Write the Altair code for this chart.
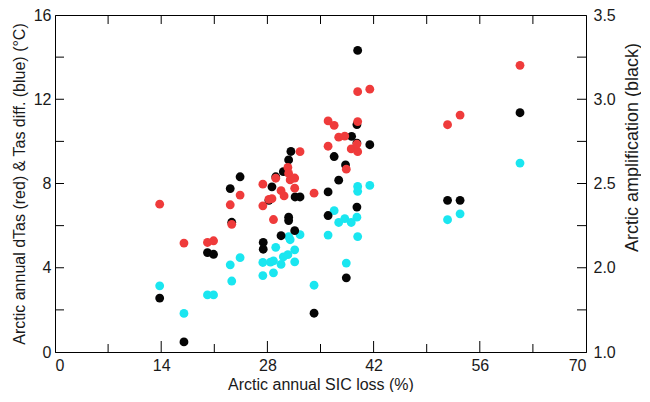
import altair as alt
import pandas as pd

# x positions (Arctic annual SIC loss, %) for each model
sic_loss = [13.8, 17.0, 20.1, 20.9, 23.1, 23.3, 24.4, 27.4, 27.4, 28.2, 28.6, 28.8,
            29.1, 29.8, 30.2, 30.7, 30.8, 31.0, 31.6, 31.6, 32.3, 34.15, 36.0, 36.8,
            36.0, 37.4, 38.2, 38.4, 39.05, 39.9, 39.8, 39.9, 39.9, 41.5, 51.75, 53.4, 61.3]
dtas = [7.02, 5.17, 5.20, 5.28, 6.99, 6.06, 7.45, 7.97, 6.94, 7.25, 7.28, 6.29,
        8.25, 7.66, 7.41, 8.76, 8.48, 8.17, 8.26, 7.78, 9.51, 7.54, 10.97, 10.76,
        9.77, 10.20, 10.25, 8.68, 9.64, 9.51, 9.87, 10.94, 12.36, 12.48, 10.79, 11.25, 13.61]

cyan_x = [13.8, 17.0, 20.1, 20.9, 23.1, 24.4, 23.3, 27.4, 27.4, 28.4, 28.8, 28.8,
          29.1, 29.8, 30.1, 30.7, 31.0, 30.8, 31.6, 31.6, 32.3, 34.15, 36.0, 36.8,
          37.4, 38.2, 38.4, 39.05, 39.8, 39.9, 39.9, 41.5, 39.9, 51.75, 53.4, 61.3]
tas_diff = [3.14, 1.83, 2.71, 2.71, 4.14, 4.48, 3.37, 4.25, 3.63, 4.27, 4.33, 3.76,
            4.97, 4.16, 4.52, 4.62, 5.33, 5.48, 4.85, 4.28, 5.57, 3.17, 5.55, 6.71,
            6.15, 6.33, 4.22, 6.15, 6.40, 7.86, 7.63, 7.91, 5.48, 6.28, 6.56, 8.97]

black_x = [13.8, 17.0, 20.1, 20.9, 23.1, 24.4, 23.3, 27.45, 27.45, 28.2, 28.6, 29.1,
           30.1, 30.8, 31.1, 29.8, 30.8, 30.8, 31.6, 31.65, 32.3, 34.15, 36.0, 36.0,
           36.8, 37.4, 38.3, 38.4, 39.9, 39.8, 39.1, 39.8, 41.5, 39.8, 51.75, 53.4, 61.3]
amplification = [1.82, 1.56, 2.09, 2.08, 2.47, 2.54, 2.27, 2.15, 2.11, 2.40, 2.48, 2.54,
                 2.57, 2.64, 2.69, 2.19, 2.30, 2.28, 2.22, 2.42, 2.42, 1.73, 2.45, 2.31,
                 2.66, 2.52, 2.61, 1.94, 3.29, 2.85, 2.78, 2.74, 2.73, 2.36, 2.40, 2.40, 2.92]

x_labels = [0, 14, 28, 42, 56, 70]
x_minor = [7, 21, 35, 49, 63]
y_left_labels = [0, 4, 8, 12, 16]
y_left_all = [2, 4, 6, 8, 10, 12, 14]
y_right_labels = [1.5, 2.0, 2.5, 3.0, 3.5]
y_right_all = [1.75, 2.0, 2.25, 2.5, 2.75, 3.0, 3.25]

W, H = 531, 337
FONT = "Liberation Sans"
FS = 16
RED, CYAN, BLACK = "#ef3b3b", "#1ae6f0", "#050505"

red_df = pd.DataFrame({"x": sic_loss, "y": dtas})
cyan_df = pd.DataFrame({"x": cyan_x, "y": tas_diff})
black_df = pd.DataFrame({"x": black_x, "y": amplification})

xscale = alt.Scale(domain=[0, 70], nice=False, zero=False)
lscale = alt.Scale(domain=[0, 16], nice=False, zero=False)
rscale = alt.Scale(domain=[1.5, 3.5], nice=False, zero=False)

x_enc = alt.X("x:Q", scale=xscale,
              axis=alt.Axis(values=x_labels, title="Arctic annual SIC loss (%)",
                            ticks=False, tickSize=0, grid=False, labelPadding=5,
                            titlePadding=3, format="d"))

left_axis = alt.Axis(values=y_left_labels, orient="left", ticks=False, tickSize=0, grid=False,
                     labelPadding=4,
                     title="Arctic annual dTas (red) & Tas diff. (blue) (°C)",
                     titlePadding=6, titleFontSize=16, format="d")
right_axis = alt.Axis(values=y_right_labels, orient="right", ticks=False, tickSize=0, grid=False,
                      labelPadding=7, titleAngle=270, titleFontSize=18,
                      titleX=46, titleY=132, titleAlign="center", titleBaseline="middle",
                      labelExpr="datum.value == 1.5 ? '1.0' : format(datum.value, '.1f')",
                      title="Arctic amplification (black)")

pt = dict(filled=True, size=78, opacity=1, strokeWidth=0)

cyan_pts = alt.Chart(cyan_df).mark_circle(color=CYAN, **pt).encode(
    x=x_enc, y=alt.Y("y:Q", scale=lscale, axis=left_axis))

xt_major = pd.DataFrame({"x": x_labels[1:-1]})
xt_minor = pd.DataFrame({"x": x_minor})
xt_all = pd.DataFrame({"x": x_labels[1:-1] + x_minor})

bottom_major = alt.Chart(xt_major).mark_rule(color="black", strokeWidth=1).encode(
    x=alt.X("x:Q", scale=xscale), y=alt.value(H), y2=alt.value(H - 11))
bottom_minor = alt.Chart(xt_minor).mark_rule(color="black", strokeWidth=1).encode(
    x=alt.X("x:Q", scale=xscale), y=alt.value(H), y2=alt.value(H - 8))
top_ticks = alt.Chart(xt_all).mark_rule(color="black", strokeWidth=1).encode(
    x=alt.X("x:Q", scale=xscale), y=alt.value(0), y2=alt.value(9))
left_ticks = alt.Chart(pd.DataFrame({"y": y_left_all})).mark_rule(color="black", strokeWidth=1).encode(
    y=alt.Y("y:Q", scale=lscale), x=alt.value(0), x2=alt.value(9))

left_group = alt.layer(cyan_pts, bottom_major, bottom_minor, top_ticks, left_ticks)

black_pts = alt.Chart(black_df).mark_circle(color=BLACK, **pt).encode(
    x=alt.X("x:Q", scale=xscale), y=alt.Y("y:Q", scale=rscale, axis=right_axis))
right_ticks = alt.Chart(pd.DataFrame({"y": y_right_all})).mark_rule(color="black", strokeWidth=1).encode(
    y=alt.Y("y:Q", scale=rscale), x=alt.value(W), x2=alt.value(W - 9))
right_group = alt.layer(black_pts, right_ticks)

red_pts = alt.Chart(red_df).mark_circle(color=RED, **pt).encode(
    x=alt.X("x:Q", scale=xscale), y=alt.Y("y:Q", scale=lscale, axis=None))

chart = alt.layer(left_group, right_group, red_pts).resolve_scale(y="independent").properties(
    width=W, height=H,
    autosize=alt.AutoSizeParams(type="none"),
    padding={"left": 47, "top": 7, "right": 55, "bottom": 40},
).configure_view(stroke="black", strokeWidth=1).configure_axis(
    domainColor="black", domainWidth=1, labelFont=FONT, titleFont=FONT,
    labelFontSize=FS, titleFontSize=FS, labelColor="#1a1a1a", titleColor="#1a1a1a",
    titleFontWeight="normal",
)

chart.save("out.html", embed_options={"renderer": "svg", "actions": False})
